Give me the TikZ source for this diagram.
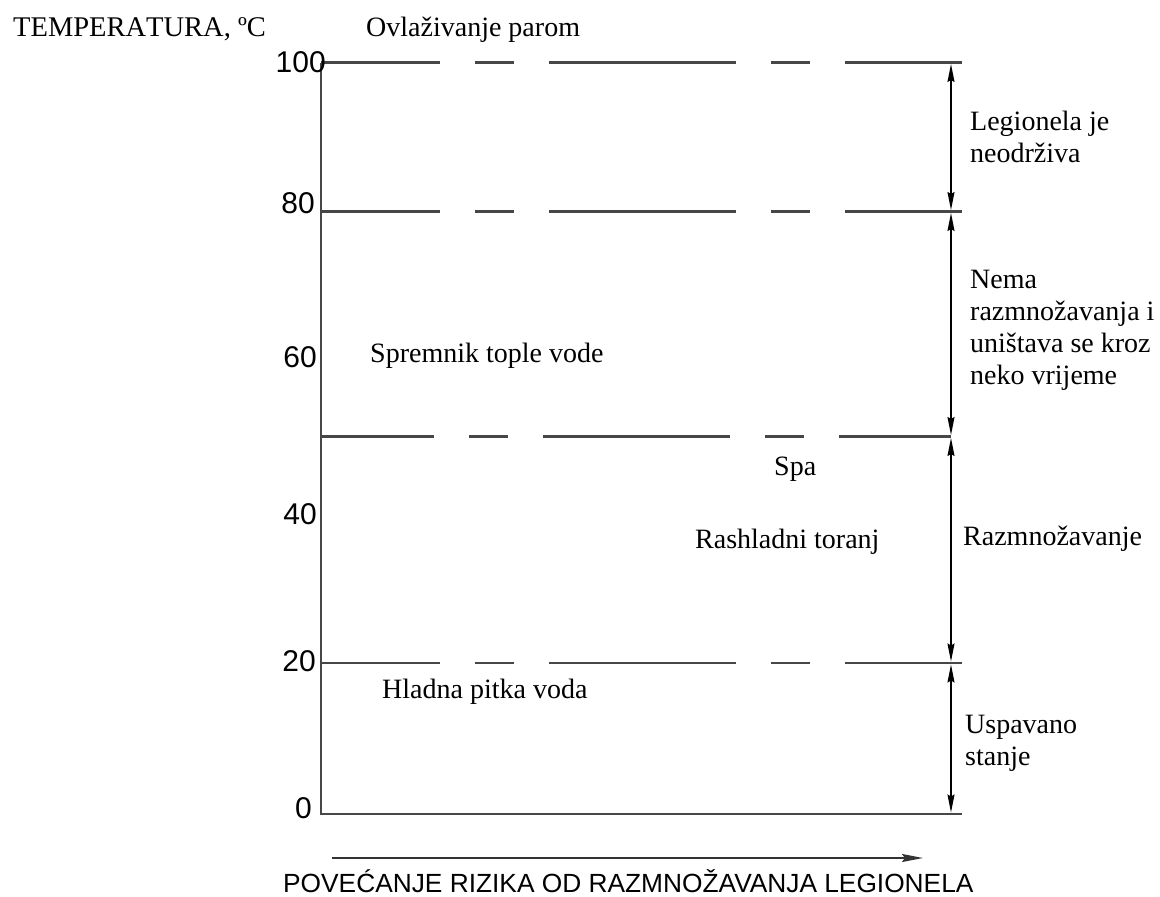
\documentclass[tikz,border=0pt]{standalone}
\usepackage{fontspec}
\setmainfont{Liberation Serif}
\newfontfamily\nokernfont[Kerning=Off]{Liberation Serif}
\newfontfamily\arialfont{Liberation Sans}
\usetikzlibrary{arrows.meta}
\begin{document}
\begin{tikzpicture}[x=1pt,y=-1pt,
  lbl/.style={anchor=base west,inner sep=0pt,font=\fontsize{28}{32}\selectfont},
  ticklbl/.style={anchor=base east,inner sep=0pt,font=\arialfont\fontsize{30}{34}\selectfont},
  caption/.style={anchor=base west,inner sep=0pt,text depth=0pt,font=\arialfont\fontsize{26.3}{30}\selectfont},
  gridline/.style={draw=black!72,line width=2.2pt},
  dashline/.style={gridline,dash pattern=on 187pt off 35pt on 39pt off 35pt},
  dimarrow/.style={draw=black,line width=1.5pt,
    {Stealth[length=18pt,width=7pt,inset=2pt]}-{Stealth[length=18pt,width=7pt,inset=2pt]},
    shorten <=1.5pt,shorten >=1.5pt},
  riskarrow/.style={draw=black!80,line width=2pt,-{Stealth[length=21pt,width=8pt,inset=3pt]}},
]
\useasboundingbox (0,0) rectangle (1160,897);

% axis coordinates
\coordinate (a100) at (321,62.5);  \coordinate (e100) at (962,62.5);
\coordinate (a80)  at (321,211.5); \coordinate (e80)  at (962,211.5);
\coordinate (a50)  at (321,436.5); \coordinate (e50)  at (951,436.5);
\coordinate (a20)  at (321,663);   \coordinate (e20)  at (962,663);
\coordinate (a0)   at (321,814);   \coordinate (e0)   at (962,814);
\coordinate (d100) at (951,62.5);
\coordinate (d80)  at (951,211.5);
\coordinate (d50)  at (951,436.5);
\coordinate (d20)  at (951,663);
\coordinate (d0)   at (951,814);
\coordinate (rs) at (332,858);
\coordinate (re) at (923,858);

% axes and level lines
\draw[gridline] (a100) -- (a0) -- (e0);
\draw[dashline,dash phase=68pt] (a100) -- (e100);
\draw[dashline,dash phase=68pt] (a80) -- (e80);
\draw[dashline,dash phase=74pt] (a50) -- (e50);
\draw[dashline,dash phase=68pt] (a20) -- (e20);

% dimension arrows
\draw[dimarrow] (d100) -- (d80);
\draw[dimarrow] (d80) -- (d50);
\draw[dimarrow] (d50) -- (d20);
\draw[dimarrow] (d20) -- (d0);

% risk arrow
\draw[riskarrow] (rs) -- (re);

% tick labels
\node[ticklbl] (t100) at (326,72) {100};
\node[ticklbl] (t80)  at (315,213) {80};
\node[ticklbl] (t60)  at (317,367) {60};
\node[ticklbl] (t40)  at (317,524) {40};
\node[ticklbl] (t20)  at (316,671) {20};
\node[ticklbl] (t0)   at (312,818) {0};

% texts
\node[lbl,font=\nokernfont\fontsize{28.5}{32}\selectfont] (temp) at (13,36) {TEMPERATURA, ºC};
\node[lbl] (ovl)  at (366,36) {Ovlaživanje parom};
\node[lbl] (spr)  at (370,362) {Spremnik tople vode};
\node[lbl] (spa)  at (774,475) {Spa};
\node[lbl] (ras)  at (695,548) {Rashladni toranj};
\node[lbl] (hla)  at (382,698) {Hladna pitka voda};

\node[lbl] (leg1) at (970,130) {Legionela je};
\node[lbl] (leg2) at (970,162) {neodrživa};
\node[lbl] (nem1) at (970,288) {Nema};
\node[lbl] (nem2) at (970,320) {razmnožavanja i};
\node[lbl] (nem3) at (970,352) {uništava se kroz};
\node[lbl] (nem4) at (970,384) {neko vrijeme};
\node[lbl] (raz)  at (963,545) {Razmnožavanje};
\node[lbl] (usp1) at (965,733) {Uspavano};
\node[lbl] (usp2) at (965,765) {stanje};

\node[caption] (cap) at (283,892) {POVEĆANJE RIZIKA OD RAZMNOŽAVANJA LEGIONELA};
\end{tikzpicture}
\end{document}
